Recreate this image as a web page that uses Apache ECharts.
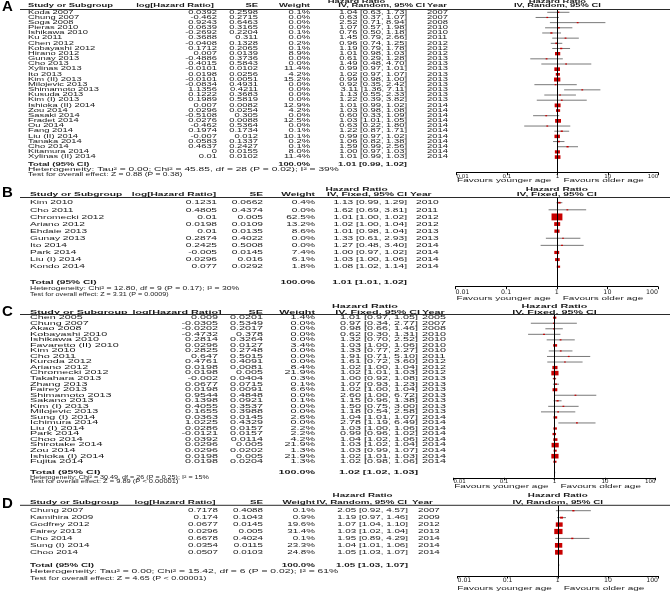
<!DOCTYPE html>
<html><head><meta charset="utf-8">
<script src="https://cdn.jsdelivr.net/npm/echarts@6/dist/echarts.min.js"></script>
<style>html,body{margin:0;padding:0;background:#fff}#c{width:670px;height:591px}</style>
</head><body><div id="c"></div>
<script>
const TICK_LABELS = ['0.01', '0.1', '1', '10', '100'];
const FAVOURS = ['Favours younger age', 'Favours older age'];

// ---------- Panel A ----------
const A_study = ['Koda 2007','Chung 2007','Soga 2008','Pieras 2010','Ishikawa 2010','Ku 2011','Chen 2012','Kobayashi 2012','Hirano 2012','Gunay 2013','Cho 2013','Xylinas 2013','Ito 2013','Kim (II) 2013','Milojevic 2013','Shimamoto 2013','Kusuda 2013','Kim (I) 2013','Ishioka (II) 2014','Zou 2014','Sasaki 2014','Fradet 2014','Ou 2014','Fang 2014','Liu (II) 2014','Tanaka 2014','Cho 2014','Kitamura 2014','Xylinas (II) 2014'];
const A_logHR = [0.0392,-0.462,0.9243,0.0639,-0.2692,0.3688,-0.0408,0.1712,0.007,-0.4886,0.4015,-0.0101,0.0198,-0.0101,-0.0834,1.1356,0.1222,0.1989,0.007,0.0296,-0.5108,0.0276,-0.462,0.1974,-0.007,0.0583,0.4637,0,0.01];
const A_se = [0.2598,0.2715,0.6463,0.3165,0.2204,0.311,0.1328,0.2065,0.0139,0.3736,0.5843,0.0102,0.0256,0.0051,0.4931,0.4211,0.3683,0.5819,0.0082,0.0254,0.305,0.0088,0.5364,0.1734,0.012,0.1337,0.2427,0.0155,0.0102];
const A_weight = [0.1,0.0,0.0,0.0,0.1,0.0,0.2,0.1,8.9,0.0,0.0,11.4,4.2,15.2,0.0,0.0,0.0,0.0,12.9,4.2,0.0,12.5,0.0,0.1,10.1,0.2,0.1,8.0,11.4];
const A_hr = [1.04,0.63,2.52,1.07,0.76,1.45,0.96,1.19,1.01,0.61,1.49,0.99,1.02,0.99,0.92,3.11,1.13,1.22,1.01,1.03,0.60,1.03,0.63,1.22,0.99,1.06,1.59,1.00,1.01];
const A_lo = [0.63,0.37,0.71,0.57,0.50,0.79,0.74,0.79,0.98,0.29,0.48,0.97,0.97,0.98,0.35,1.36,0.55,0.39,0.99,0.98,0.33,1.01,0.22,0.87,0.97,0.82,0.99,0.97,0.99];
const A_hi = [1.73,1.07,8.94,1.98,1.18,2.66,1.25,1.78,1.03,1.28,4.70,1.01,1.07,1.00,2.42,7.11,2.33,3.82,1.02,1.08,1.09,1.05,1.80,1.71,1.02,1.38,2.56,1.03,1.03];
const A_year = [2007,2007,2008,2010,2010,2011,2012,2012,2012,2013,2013,2013,2013,2013,2013,2013,2013,2013,2014,2014,2014,2014,2014,2014,2014,2014,2014,2014,2014];
const A_total = [1.01, 0.99, 1.02];
const A_method = 'IV, Random, 95% CI';
const A_het = 'Heterogeneity: Tau\u00b2 = 0.00; Chi\u00b2 = 45.85, df = 28 (P = 0.02); I\u00b2 = 39%';
const A_test = 'Test for overall effect: Z = 0.88 (P = 0.38)';

// ---------- Panel B ----------
const B_study = ['Kim 2010','Cho 2011','Chromecki 2012','Ariano 2012','Ehdaie 2013','Gunay 2013','Ito 2014','Park 2014','Liu (I) 2014','Kondo 2014'];
const B_logHR = [0.1231,0.4805,0.01,0.0198,0.01,0.2874,0.2425,-0.005,0.0296,0.077];
const B_se = [0.0662,0.4374,0.005,0.0109,0.0135,0.4022,0.5008,0.0145,0.016,0.0292];
const B_weight = [0.4,0.0,62.5,13.2,8.6,0.0,0.0,7.4,6.1,1.8];
const B_hr = [1.13,1.62,1.01,1.02,1.01,1.33,1.27,1.00,1.03,1.08];
const B_lo = [0.99,0.69,1.00,1.00,0.98,0.61,0.48,0.97,1.00,1.02];
const B_hi = [1.29,3.81,1.02,1.04,1.04,2.93,3.40,1.02,1.06,1.14];
const B_year = [2010,2011,2012,2012,2013,2013,2014,2014,2014,2014];
const B_total = [1.01, 1.01, 1.02];
const B_method = 'IV, Fixed, 95% CI';
const B_het = 'Heterogeneity: Chi\u00b2 = 12.80, df = 9 (P = 0.17); I\u00b2 = 30%';
const B_test = 'Test for overall effect: Z = 3.31 (P = 0.0009)';

// ---------- Panel C ----------
const C_study = ['Chen 2005','Chung 2007','Akao 2008','Kobayashi 2010','Ishikawa 2010','Favaretto (II) 2010','Kim 2010','Cho 2011','Kuroda 2012','Ariano 2012','Chromecki 2012','Takahara 2013','Zhang 2013','Fairey 2013','Shimamoto 2013','Sakano 2013','Kim (I) 2013','Milojevic 2013','Sung (I) 2014','Ichimura 2014','Liu (I) 2014','Park 2014','Choo 2014','Shirotake 2014','Zou 2014','Ishioka (I) 2014','Fujita 2014'];
const C_logHR = [0.009,-0.0305,-0.0202,-0.4732,0.2814,0.0296,0.2825,0.647,0.4761,0.0198,0.0198,-0.002,0.0677,0.0198,0.9544,0.1398,0.4055,0.1655,0.0363,1.0225,0.0286,-0.0121,0.0392,0.0296,0.0296,0.0198,0.0198];
const C_se = [0.0201,0.5349,0.2017,0.378,0.3264,0.0127,0.2748,0.5015,0.4091,0.0081,0.005,0.0404,0.0715,0.0091,0.4848,0.0921,0.3537,0.3988,0.0145,0.4329,0.0157,0.0157,0.0114,0.005,0.0202,0.005,0.0204];
const C_weight = [1.4,0.0,0.0,0.0,0.0,3.4,0.0,0.0,0.0,8.4,21.9,0.3,0.1,6.6,0.0,0.1,0.0,0.0,2.6,0.0,2.2,2.2,4.2,21.9,1.3,21.9,1.3];
const C_hr = [1.01,0.97,0.98,0.62,1.32,1.03,1.33,1.91,1.61,1.02,1.02,1.00,1.07,1.02,2.60,1.15,1.50,1.18,1.04,2.78,1.03,0.99,1.04,1.03,1.03,1.02,1.02];
const C_lo = [0.97,0.34,0.66,0.30,0.70,1.00,0.77,0.71,0.72,1.00,1.01,0.92,0.93,1.00,1.00,0.96,0.75,0.54,1.01,1.19,1.00,0.96,1.02,1.02,0.99,1.01,0.98];
const C_hi = [1.05,2.77,1.46,1.31,2.52,1.06,2.27,5.10,3.60,1.04,1.03,1.08,1.23,1.04,6.72,1.38,3.00,2.58,1.07,6.49,1.06,1.02,1.06,1.04,1.07,1.03,1.06];
const C_year = [2005,2007,2008,2010,2010,2010,2010,2011,2012,2012,2012,2013,2013,2013,2013,2013,2013,2013,2014,2014,2014,2014,2014,2014,2014,2014,2014];
const C_total = [1.02, 1.02, 1.03];
const C_method = 'IV, Fixed, 95% CI';
const C_het = 'Heterogeneity: Chi\u00b2 = 30.49, df = 26 (P = 0.25); I\u00b2 = 15%';
const C_test = 'Test for overall effect: Z = 9.89 (P < 0.00001)';

// ---------- Panel D ----------
const D_study = ['Chung 2007','Kamihira 2009','Godfrey 2012','Fairey 2013','Cho 2014','Sung (I) 2014','Choo 2014'];
const D_logHR = [0.7178,0.174,0.0677,0.0296,0.6678,0.0354,0.0507];
const D_se = [0.4088,0.1043,0.0145,0.005,0.4024,0.0115,0.0103];
const D_weight = [0.1,0.9,19.6,31.4,0.1,23.3,24.8];
const D_hr = [2.05,1.19,1.07,1.03,1.95,1.04,1.05];
const D_lo = [0.92,0.97,1.04,1.02,0.89,1.01,1.03];
const D_hi = [4.57,1.46,1.10,1.04,4.29,1.06,1.07];
const D_year = [2007,2009,2012,2013,2014,2014,2014];
const D_total = [1.05, 1.03, 1.07];
const D_method = 'IV, Random, 95% CI';
const D_het = 'Heterogeneity: Tau\u00b2 = 0.00; Chi\u00b2 = 15.42, df = 6 (P = 0.02); I\u00b2 = 61%';
const D_test = 'Test for overall effect: Z = 4.65 (P < 0.00001)';

const PANELS = [
  {letter:'A', study:A_study, lhr:A_logHR, se:A_se, w:A_weight, hr:A_hr, lo:A_lo, hi:A_hi, year:A_year, total:A_total, method:A_method, het:A_het, test:A_test},
  {letter:'B', study:B_study, lhr:B_logHR, se:B_se, w:B_weight, hr:B_hr, lo:B_lo, hi:B_hi, year:B_year, total:B_total, method:B_method, het:B_het, test:B_test},
  {letter:'C', study:C_study, lhr:C_logHR, se:C_se, w:C_weight, hr:C_hr, lo:C_lo, hi:C_hi, year:C_year, total:C_total, method:C_method, het:C_het, test:C_test},
  {letter:'D', study:D_study, lhr:D_logHR, se:D_se, w:D_weight, hr:D_hr, lo:D_lo, hi:D_hi, year:D_year, total:D_total, method:D_method, het:D_het, test:D_test}
];

// ---------- layout (pixels) ----------
const LAYOUT = [
  {letterY:7.5, h1:1.8, h2:6.0, ul:9.5, y0:12.3, step:5.17, totY:165.2, hetY:170.0, testY:174.6, axisY:172.7, favY:180.7,
   xL:456.5, xR:658.3, fs:4.6, hx:9.4, ffs:4.8, hhx:10.2, thx:8.5, lfs:5.5, lm:1.2,
   c:{study:28, lhrH:175, lhr:217, se:258, w:310, hr1:356.5, hr2:425, hr:407, yrH:427, yr:427}},
  {letterY:193, h1:189.3, h2:194.3, ul:197.5, y0:202.7, step:7.11, totY:282.0, hetY:288.3, testY:294.3, axisY:286.7, favY:298.3,
   xL:455.5, xR:658, fs:6.2, hx:10.2, ffs:5.6, hhx:8.6, thx:7.2, lfs:6.3, lm:2.2,
   c:{study:30, lhrH:174, lhr:217, se:263, w:315, hr1:356.5, hr2:407, hr:407, yrH:410, yr:416}},
  {letterY:312, h1:306.7, h2:312.3, ul:314.5, y0:317.7, step:5.54, totY:472.5, hetY:477.3, testY:482.0, axisY:477.8, favY:486.7,
   xL:453.5, xR:655.5, fs:4.9, hx:10.8, ffs:4.9, hhx:7.2, thx:7.5, lfs:5.5, lm:1.0,
   c:{study:30, lhrH:177, lhr:218, se:263, w:315, hr1:365, hr2:420, hr:418, yrH:422, yr:422}},
  {letterY:504, h1:495, h2:502.4, ul:505.3, y0:510.7, step:6.93, totY:565.0, hetY:571.0, testY:578.3, axisY:576.0, favY:588.0,
   xL:457.5, xR:658, fs:6.0, hx:9.8, ffs:5.8, hhx:10.3, thx:8.9, lfs:6.2, lm:1.5,
   c:{study:30, lhrH:175, lhr:218, se:263, w:315, hr1:362.5, hr2:407, hr:408, yrH:412, yr:418}}
];

const W = 670;
const f2 = v => v.toFixed(2);
const ciText = (h, l, u) => f2(h) + ' [' + f2(l) + ', ' + f2(u) + ']';
const FONT = '"Liberation Sans", Arial, sans-serif';

const grids = [], xAxes = [], yAxes = [], series = [], graphics = [];

PANELS.forEach((P, k) => {
  const L = LAYOUT[k];
  const n = P.study.length;
  const rv = Y => (Y - L.y0) / L.step;
  const yMin = rv(L.ul), yMax = rv(L.axisY);

  grids.push({left: L.xL, width: L.xR - L.xL, top: L.ul, height: L.axisY - L.ul});
  xAxes.push({
    type: 'log', logBase: 10, min: 0.01, max: 100, gridIndex: k,
    axisLine: {show: true, onZero: false, lineStyle: {color: '#000', width: 1}},
    axisTick: {show: true, length: 2.5, lineStyle: {color: '#000', width: 1}},
    minorTick: {show: false}, splitLine: {show: false},
    axisLabel: {
      show: true, fontSize: L.lfs, color: '#1a1a1a', margin: L.lm, fontFamily: 'DejaVu Sans',
      alignMinLabel: 'left', alignMaxLabel: 'right', showMinLabel: true, showMaxLabel: true,
      formatter: v => TICK_LABELS[Math.round(Math.log10(v)) + 2]
    }
  });
  yAxes.push({type: 'value', inverse: true, min: yMin, max: yMax, gridIndex: k, show: false});

  // ---- text rows ----
  const descs = [];
  const hd = (it) => Object.assign({b: 1}, it);
  descs.push({v: rv(L.h1), items: [
    hd({x: L.c.hr1, text: 'Hazard Ratio', align: 'center'}),
    hd({fx: 0, text: 'Hazard Ratio', align: 'center'})
  ]});
  descs.push({v: rv(L.h2), items: [
    hd({x: L.c.study, text: 'Study or Subgroup', align: 'left'}),
    hd({x: L.c.lhrH, text: 'log[Hazard Ratio]', align: 'center'}),
    hd({x: L.c.se, text: 'SE', align: 'right'}),
    hd({x: L.c.w, text: 'Weight', align: 'right'}),
    hd({x: L.c.hr2, text: P.method, align: 'right'}),
    hd({x: L.c.yrH, text: 'Year', align: 'left'}),
    hd({fx: 0, text: P.method, align: 'center'})
  ]});
  for (let i = 0; i < n; i++) {
    descs.push({v: i, items: [
      {x: L.c.study, text: P.study[i], align: 'left'},
      {x: L.c.lhr, text: String(P.lhr[i]), align: 'right'},
      {x: L.c.se, text: String(P.se[i]), align: 'right'},
      {x: L.c.w, text: P.w[i].toFixed(1) + '%', align: 'right'},
      {x: L.c.hr, text: ciText(P.hr[i], P.lo[i], P.hi[i]), align: 'right'},
      {x: L.c.yr, text: String(P.year[i]), align: 'left'}
    ]});
  }
  descs.push({v: rv(L.totY), items: [
    hd({x: L.c.study, text: 'Total (95% CI)', align: 'left'}),
    hd({x: L.c.w, text: '100.0%', align: 'right'}),
    hd({x: L.c.hr, text: ciText(P.total[0], P.total[1], P.total[2]), align: 'right'})
  ]});
  descs.push({v: rv(L.hetY), items: [{x: L.c.study, text: P.het, align: 'left', fs: L.ffs, hx: L.hhx}]});
  descs.push({v: rv(L.testY), items: [{x: L.c.study, text: P.test, align: 'left', fs: L.ffs, hx: L.thx}]});
  descs.push({v: rv(L.favY), items: [
    {fx: -6, text: FAVOURS[0], align: 'right', hx: 10},
    {fx: 6, text: FAVOURS[1], align: 'left', hx: 10}
  ]});
  descs.push({v: rv(L.ul), items: [], line: [20, W]});

  series.push({
    type: 'custom', xAxisIndex: k, yAxisIndex: k, clip: false, silent: true, z: 5,
    data: descs.map(d => [1, d.v]),
    encode: {x: 0, y: 1},
    renderItem: (params, api) => {
      const d = descs[params.dataIndex];
      const pt = api.coord([1, api.value(1)]);
      const ch = d.items.map(it => {
        const fs = it.fs || L.fs, hx = it.hx || L.hx;
        const x = (it.fx !== undefined) ? pt[0] + it.fx : it.x;
        return {type: 'text', x: x, y: pt[1], scaleX: hx / fs,
          style: {text: it.text, x: 0, y: 0, align: it.align, verticalAlign: 'middle',
            fontSize: fs, fontFamily: FONT, fontWeight: it.b ? 'bold' : 'normal', fill: '#1a1a1a'}};
      });
      if (d.line) ch.push({type: 'line', shape: {x1: d.line[0], y1: pt[1], x2: d.line[1], y2: pt[1]},
        style: {stroke: '#2a2a2a', lineWidth: 1}});
      return {type: 'group', children: ch};
    }
  });

  // ---- forest: CI lines + weighted squares ----
  series.push({
    type: 'custom', xAxisIndex: k, yAxisIndex: k, clip: false, silent: true, z: 4,
    data: P.hr.map((h, i) => [h, i, P.lo[i], P.hi[i], P.w[i]]),
    encode: {x: 0, y: 1},
    renderItem: (params, api) => {
      const c = api.coord([api.value(0), api.value(1)]);
      const a = api.coord([api.value(2), api.value(1)]);
      const b = api.coord([api.value(3), api.value(1)]);
      const s = Math.sqrt(api.value(4));
      const sw = 1.8 + 1.15 * s, sh = 1.2 + 0.72 * s;
      return {type: 'group', children: [
        {type: 'line', shape: {x1: a[0], y1: c[1], x2: b[0], y2: c[1]}, style: {stroke: '#6a6a6a', lineWidth: 0.9}},
        {type: 'rect', shape: {x: c[0] - sw / 2, y: c[1] - sh / 2, width: sw, height: sh}, style: {fill: '#c80000'}}
      ]};
    }
  });

  // ---- total diamond + line of no effect ----
  series.push({
    type: 'custom', xAxisIndex: k, yAxisIndex: k, clip: false, silent: true, z: 3,
    data: [[P.total[0], rv(L.totY), P.total[1], P.total[2]]],
    encode: {x: 0, y: 1},
    renderItem: (params, api) => {
      const c = api.coord([api.value(0), api.value(1)]);
      const a = api.coord([api.value(2), api.value(1)]);
      const b = api.coord([api.value(3), api.value(1)]);
      const dh = 2;
      return {type: 'polygon', shape: {points: [[a[0], c[1]], [c[0], c[1] - dh], [b[0], c[1]], [c[0], c[1] + dh]]},
        style: {fill: '#000'}};
    },
    markLine: {silent: true, symbol: ['none', 'none'], label: {show: false},
      lineStyle: {color: '#000', width: 1, type: 'solid'}, data: [{xAxis: 1}]}
  });

  graphics.push({type: 'text', left: 2, top: L.letterY - 8,
    style: {text: P.letter, fontSize: 15, fontWeight: 'bold', fontFamily: FONT, fill: '#000'}});
});

const chart = echarts.init(document.getElementById('c'), null, {renderer: 'canvas'});
chart.setOption({
  animation: false,
  backgroundColor: '#fff',
  grid: grids, xAxis: xAxes, yAxis: yAxes, series: series, graphic: graphics
});
</script>
</body></html>
